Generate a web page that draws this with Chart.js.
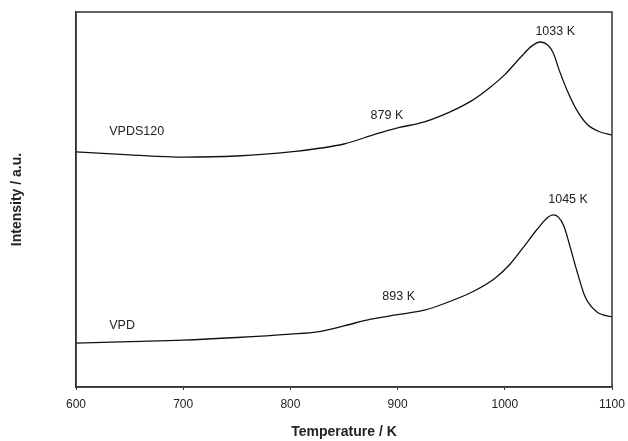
<!DOCTYPE html>
<html>
<head>
<meta charset="utf-8">
<script src="https://cdn.jsdelivr.net/npm/chart.js@4"></script>
<style>
  html, body { margin: 0; padding: 0; background: #fff; }
  #wrap { width: 628px; height: 441px; }
</style>
</head>
<body>
<div id="wrap"><canvas id="tprChart"></canvas></div>
<script>
// Datos (temperatura en K, intensidad en u.a.)
const tempVPDS = [600, 650, 700, 750, 800, 850, 880, 900, 925, 950, 970, 985, 1000, 1015, 1025, 1033, 1040, 1045, 1051, 1058, 1067, 1077, 1089, 1100];
const intVPDS  = [62.7, 61.9, 61.3, 61.6, 62.7, 64.8, 67.5, 69.1, 70.7, 73.5, 76.5, 79.6, 83.3, 88.0, 90.9, 92.0, 91.2, 89.2, 84.3, 79.2, 73.9, 70.0, 68.0, 67.2];

const tempVPD = [600, 650, 700, 750, 800, 825, 850, 875, 900, 925, 945, 970, 990, 1005, 1018, 1030, 1040, 1045, 1050, 1055, 1061, 1067, 1075, 1086, 1100];
const intVPD  = [11.7, 12.1, 12.5, 13.2, 14.1, 14.7, 16.3, 18.1, 19.3, 20.5, 22.4, 25.4, 28.8, 32.8, 37.5, 42.0, 45.2, 45.9, 45.3, 43.0, 37.3, 31.2, 24.0, 20.0, 18.7];

const xTicks = [600, 700, 800, 900, 1000, 1100];

// Etiquetas sobre la grafica: [texto, temperatura, intensidad, alineacion]
const etiquetas = [
    ['VPDS120', 631, 68.0, 'left'],
    ['879 K', 890, 72.5, 'center'],
    ['1033 K', 1047, 94.7, 'center'],
    ['VPD', 631, 16.5, 'left'],
    ['893 K', 901, 24.0, 'center'],
    ['1045 K', 1059, 49.9, 'center']
];

function aPuntos(xs, ys) {
    return xs.map((x, i) => ({ x: x, y: ys[i] }));
}

const fuente = "'Liberation Sans', Arial, sans-serif";

// Marco completo y etiquetas de texto
const marcoPlugin = {
    id: 'marco',
    afterDatasetsDraw(chart) {
        const { ctx, chartArea, scales } = chart;
        ctx.save();
        ctx.strokeStyle = '#333';
        ctx.lineWidth = 1.5;
        ctx.strokeRect(chartArea.left, chartArea.top, chartArea.right - chartArea.left, chartArea.bottom - chartArea.top);
        ctx.fillStyle = '#222';
        ctx.font = '12.5px ' + fuente;
        ctx.textBaseline = 'middle';
        etiquetas.forEach(e => {
            ctx.textAlign = e[3];
            ctx.fillText(e[0], scales.x.getPixelForValue(e[1]), scales.y.getPixelForValue(e[2]));
        });
        ctx.restore();
    }
};

const ctx = document.getElementById('tprChart');
new Chart(ctx.getContext('2d'), {
    type: 'line',
    data: {
        datasets: [
            {
                label: 'VPDS120',
                data: aPuntos(tempVPDS, intVPDS),
                borderColor: '#111',
                borderWidth: 1.3,
                pointRadius: 0,
                fill: false,
                cubicInterpolationMode: 'monotone'
            },
            {
                label: 'VPD',
                data: aPuntos(tempVPD, intVPD),
                borderColor: '#111',
                borderWidth: 1.3,
                pointRadius: 0,
                fill: false,
                cubicInterpolationMode: 'monotone'
            }
        ]
    },
    options: {
        responsive: true,
        maintainAspectRatio: false,
        animation: false,
        layout: { padding: { top: 12, right: 16, left: 0, bottom: 0 } },
        plugins: {
            legend: { display: false },
            tooltip: { enabled: false }
        },
        scales: {
            x: {
                type: 'linear',
                min: 600,
                max: 1100,
                afterFit: s => { s.height = 54; s.paddingRight = 0; },
                afterBuildTicks: s => { s.ticks = xTicks.map(v => ({ value: v })); },
                grid: { display: true, drawOnChartArea: false, drawTicks: true, tickLength: 3, color: '#333' },
                border: { color: '#333', width: 1.5 },
                ticks: {
                    padding: 7,
                    color: '#222',
                    maxRotation: 0,
                    font: { family: fuente, size: 12 },
                    callback: v => String(v)
                },
                title: {
                    display: true,
                    text: 'Temperature / K',
                    color: '#222',
                    font: { family: fuente, size: 14, weight: 'bold' },
                    padding: { top: 0, bottom: 0 }
                }
            },
            y: {
                min: 0,
                max: 100,
                afterFit: s => { s.width = 76; },
                grid: { display: false },
                border: { color: '#333', width: 1.5 },
                ticks: { display: false },
                title: {
                    display: true,
                    text: 'Intensity / a.u.',
                    color: '#222',
                    font: { family: fuente, size: 14, weight: 'bold' },
                    padding: { top: 9, bottom: 0 }
                }
            }
        }
    },
    plugins: [marcoPlugin]
});
</script>
</body>
</html>
